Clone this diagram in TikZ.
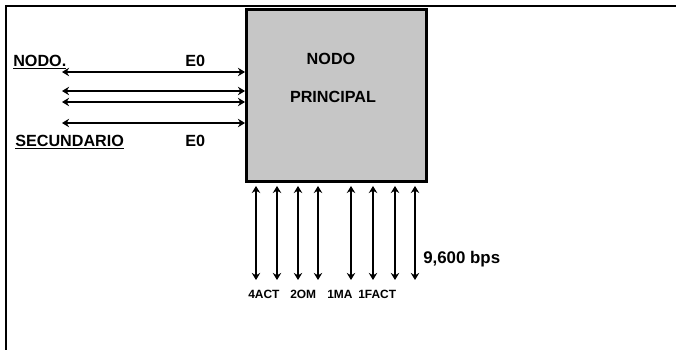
\documentclass[tikz,border=0pt]{standalone}
\usepackage{fontspec}
\setmainfont{Liberation Sans}
\usetikzlibrary{arrows.meta}
\begin{document}
\begin{tikzpicture}[x=0.025cm,y=-0.025cm,>={Stealth[length=5pt,width=6pt]}]
  \tikzset{
    lbl/.style={font=\fontsize{11.5}{13}\selectfont\bfseries,inner sep=0pt},
    small/.style={font=\fontsize{8.5}{10}\selectfont\bfseries,inner sep=0pt,anchor=base west},
    link/.style={<->,line width=1.3pt}}
  \useasboundingbox (0,0) rectangle (676,350);
  % marco
  \draw[line width=1.2pt] (676,6) -- (6,6) -- (6,350);
  % nodo principal
  \node[draw,line width=2.2pt,fill=gray!45,inner sep=0pt,anchor=north west,
        minimum width=4.5cm,minimum height=4.3cm] (box) at (245,8) {};
  \node[lbl] (nodo) at (331,59) {NODO};
  \node[lbl] (princ) at (333,97) {PRINCIPAL};
  % nodo secundario
  \node[lbl,anchor=base west] (sec1) at (13,66) {\underline{NODO.}};
  \node[lbl,anchor=base west] (sec2) at (15,146) {\underline{SECUNDARIO}};
  \node[lbl,anchor=base west] (e1) at (185,66) {E0};
  \node[lbl,anchor=base west] (e2) at (185,146) {E0};
  \foreach \y [count=\i] in {72,91,102,123}{
    \coordinate (h\i) at (62,\y);
    \draw[link] (h\i) -- (h\i -| box.west);
  }
  % lineas de 9,600 bps
  \foreach \x [count=\i] in {256,277,298,318,351,373,395,415}{
    \coordinate (v\i) at (\x,280);
    \draw[link,shorten <=2pt] (v\i |- box.south) -- (v\i);
  }
  \node[small] (act4) at (248,298) {4ACT};
  \node[small] (om2) at (290,298) {2OM};
  \node[small] (ma1) at (327,298) {1MA};
  \node[small] (fact1) at (358,298) {1FACT};
  \node[lbl,font=\fontsize{12}{14}\selectfont\bfseries,anchor=base west] (rate) at (423,263) {9,600 bps};
\end{tikzpicture}
\end{document}
